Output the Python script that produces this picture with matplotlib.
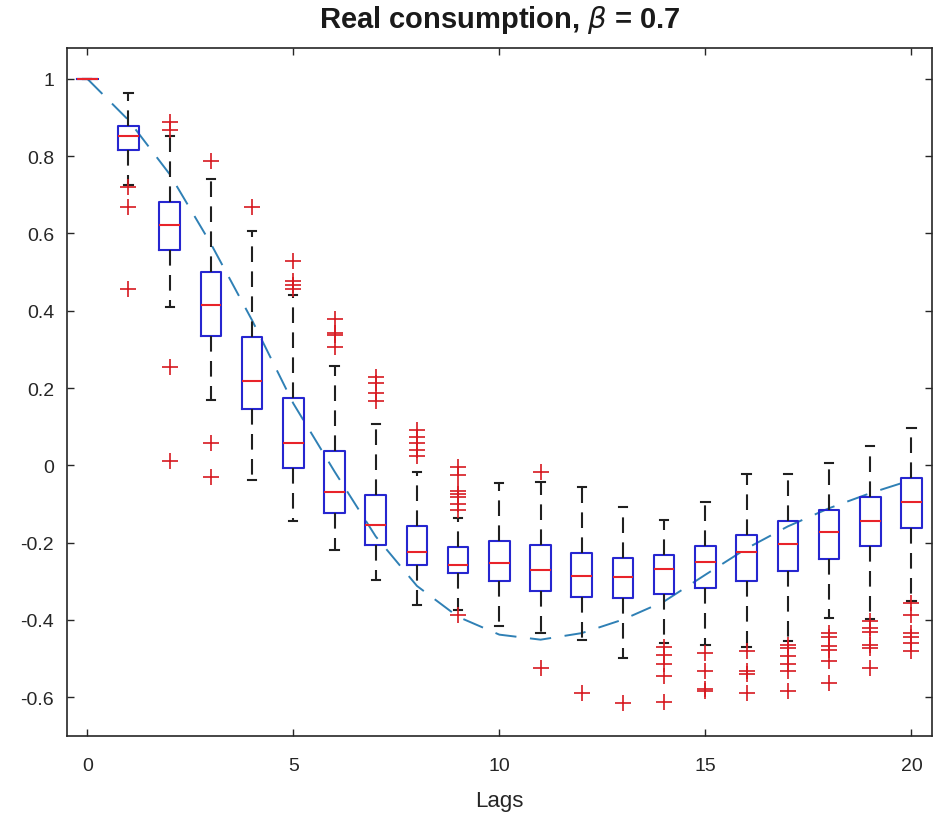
import matplotlib
matplotlib.use("Agg")
import matplotlib.pyplot as plt

plt.rcParams["font.family"] = ["Liberation Sans", "DejaVu Sans"]
plt.rcParams["axes.unicode_minus"] = False

# Sample autocorrelation summary per lag (box-plot statistics)
lags = list(range(21))
med = [1.0, 0.852, 0.623, 0.415, 0.218, 0.059, -0.068, -0.154, -0.223, -0.257, -0.253,
       -0.270, -0.287, -0.290, -0.268, -0.251, -0.225, -0.203, -0.173, -0.143, -0.095]
q1 = [1.0, 0.816, 0.556, 0.334, 0.145, -0.008, -0.124, -0.206, -0.257, -0.279, -0.298,
      -0.326, -0.341, -0.343, -0.333, -0.317, -0.299, -0.274, -0.243, -0.208, -0.163]
q3 = [1.0, 0.878, 0.680, 0.501, 0.332, 0.175, 0.037, -0.077, -0.156, -0.212, -0.197,
      -0.206, -0.227, -0.240, -0.233, -0.208, -0.181, -0.145, -0.115, -0.081, -0.032]
whislo = [1.0, 0.725, 0.410, 0.169, -0.038, -0.145, -0.218, -0.296, -0.361, -0.375, -0.416,
          -0.434, -0.451, -0.498, -0.460, -0.464, -0.470, -0.455, -0.395, -0.398, -0.350]
whishi = [1.0, 0.963, 0.852, 0.741, 0.607, 0.440, 0.256, 0.108, -0.016, -0.135, -0.046,
          -0.042, -0.055, -0.109, -0.141, -0.094, -0.023, -0.023, 0.005, 0.050, 0.097]
fliers = [
    [],
    [0.720, 0.668, 0.457],
    [0.887, 0.868, 0.255, 0.010],
    [0.788, 0.057, -0.029],
    [0.669],
    [0.528, 0.476, 0.466, 0.457],
    [0.379, 0.343, 0.336, 0.306],
    [0.228, 0.214, 0.186, 0.166],
    [0.091, 0.074, 0.057, 0.040, 0.025],
    [-0.005, -0.025, -0.066, -0.074, -0.083, -0.100, -0.115, -0.388],
    [],
    [-0.018, -0.524],
    [-0.588],
    [-0.614],
    [-0.470, -0.490, -0.515, -0.545, -0.612],
    [-0.485, -0.532, -0.578, -0.585],
    [-0.481, -0.532, -0.541, -0.588],
    [-0.464, -0.472, -0.494, -0.515, -0.532, -0.584],
    [-0.434, -0.443, -0.468, -0.477, -0.507, -0.563],
    [-0.403, -0.421, -0.430, -0.464, -0.472, -0.524],
    [-0.356, -0.386, -0.434, -0.443, -0.459, -0.481],
]

# Theoretical autocorrelation function
acf = [1.0, 0.893, 0.753, 0.573, 0.375, 0.160, -0.016, -0.184, -0.312, -0.392, -0.438,
       -0.451, -0.434, -0.399, -0.352, -0.283, -0.215, -0.158, -0.111, -0.072, -0.038]

title = r"Real consumption, $\beta$ = 0.7"
xlabel = "Lags"
xticks = [0, 5, 10, 15, 20]
yticks = [-0.6, -0.4, -0.2, 0, 0.2, 0.4, 0.6, 0.8, 1]

stats = []
for i in range(len(lags)):
    stats.append(dict(med=med[i], q1=q1[i], q3=q3[i], whislo=whislo[i],
                      whishi=whishi[i], fliers=fliers[i]))

fig = plt.figure(figsize=(9.34, 8.28), dpi=100)
ax = fig.add_axes([0.0714, 0.110, 0.9265, 0.831])

ax.bxp(stats, positions=lags, widths=0.5, capwidths=0.2, showfliers=True,
       boxprops=dict(color="#2626d0", linewidth=1.5),
       medianprops=dict(color="#e8232a", linewidth=1.5),
       whiskerprops=dict(color="#202020", linewidth=1.5, linestyle=(0, (7.5, 4.5))),
       capprops=dict(color="#202020", linewidth=1.5),
       flierprops=dict(marker="+", markeredgecolor="#d71920", markersize=11,
                       markeredgewidth=1.2, linestyle="none"))

line, = ax.plot(lags, acf, color="#2f80b5", linewidth=1.4, zorder=1)
line.set_dashes([11, 7])

ax.set_xlim(-0.5, 20.5)
ax.set_ylim(-0.7, 1.08)
ax.set_xticks(xticks)
ax.set_xticklabels([str(t) for t in xticks])
ax.set_yticks(yticks)
ax.set_yticklabels(["%g" % t for t in yticks])

ax.tick_params(direction="in", length=5, width=1, colors="#262626",
               labelsize=14, top=True, right=True)
ax.tick_params(axis="x", pad=15)
ax.tick_params(axis="y", pad=9)
for s in ax.spines.values():
    s.set_color("#262626")
    s.set_linewidth(1.2)

ax.set_xlabel(xlabel, fontsize=16, color="#262626", labelpad=12)
ax.set_title(title, fontsize=21, fontweight="bold", color="#1a1a1a", pad=15)

fig.savefig("out.png", dpi=100)
